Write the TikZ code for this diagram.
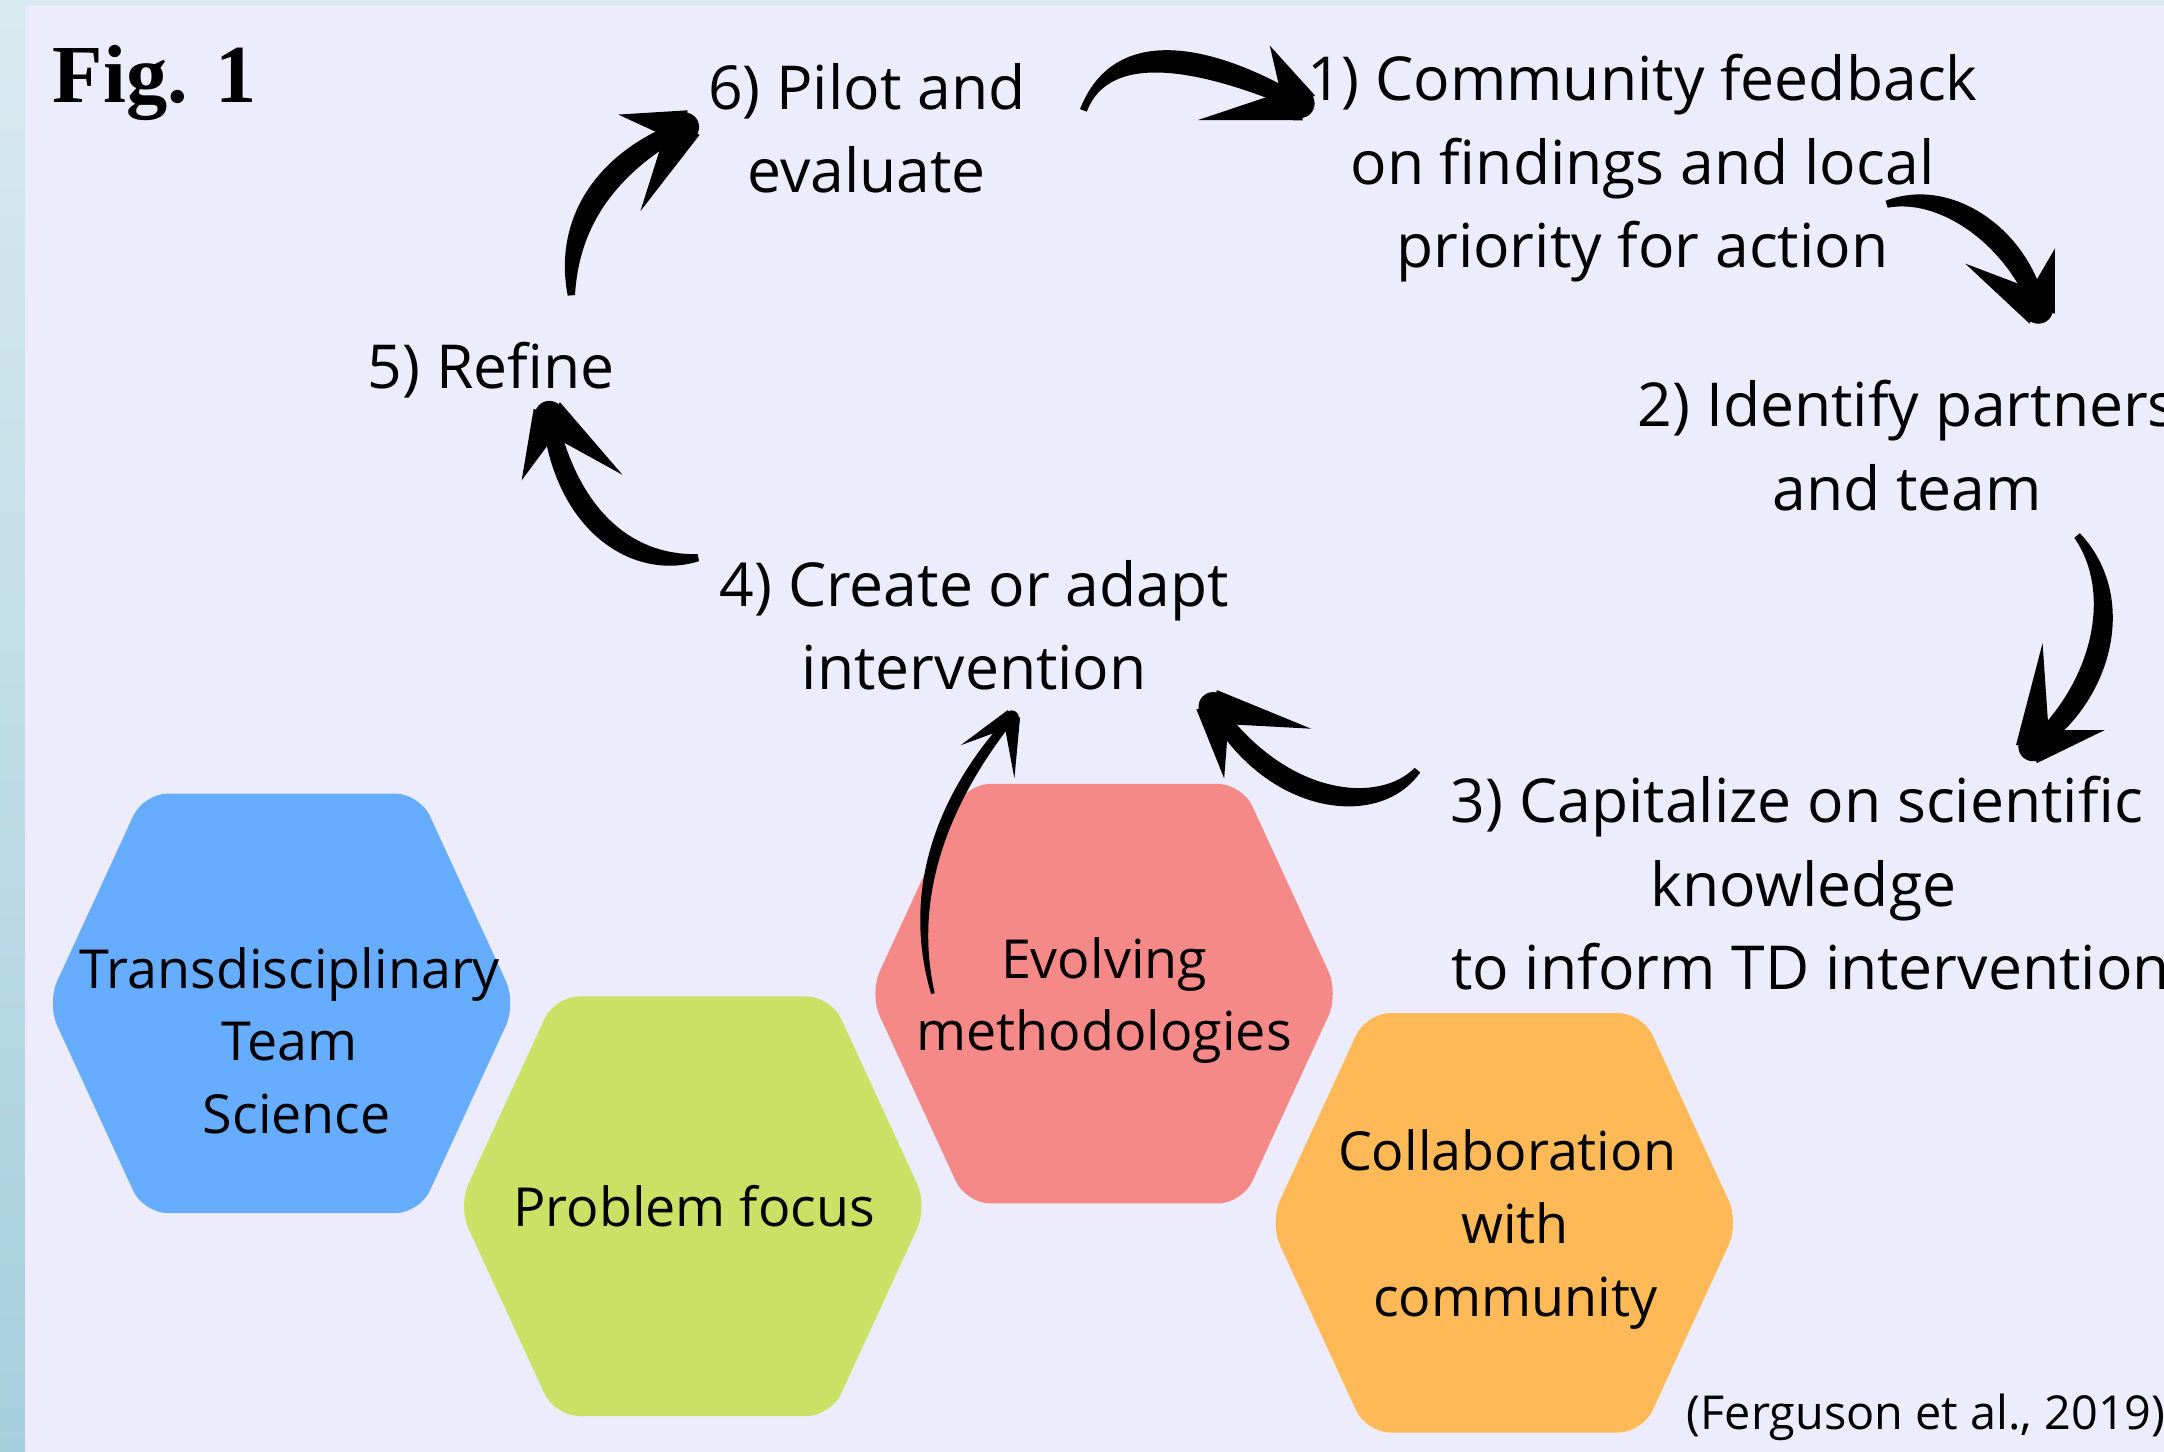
\documentclass[tikz,border=0pt]{standalone}
\usepackage{fontspec}
\setmainfont{Open Sans}
\newfontfamily\figfont{Liberation Serif}
\usetikzlibrary{calc}

\definecolor{bgfill}{RGB}{237,236,252}
\definecolor{stripTop}{RGB}{216,234,240}
\definecolor{stripBot}{RGB}{166,207,221}
\definecolor{hexblue}{RGB}{102,173,255}
\definecolor{hexgreen}{RGB}{201,225,100}
\definecolor{hexred}{RGB}{245,137,135}
\definecolor{hexorange}{RGB}{255,186,87}

\tikzset{
  steptext/.style={align=center, inner sep=0pt, font=\fontsize{25}{34.5}\selectfont},
  hextext/.style={align=center, inner sep=0pt, font=\fontsize{22.2}{30}\selectfont},
  hexa/.style={rounded corners=10pt}
}

\newcommand{\hexagon}[2]{%
  \fill[#2, hexa, shift={(#1)}] (-170,0) -- (-100,-152) -- (100,-152) -- (170,0) -- (100,152) -- (-100,152) -- cycle;}

% brush arrow: [scale]{tail}{c1}{c2}{tip}{barb}{barb}
\newcommand{\brush}[7][1]{%
  \coordinate (P0) at (#2); \coordinate (P1) at (#3);
  \coordinate (P2) at (#4); \coordinate (P3) at (#5);
  \fill ($(P0)!#1*1.5pt!90:(P1)$) .. controls ($(P1)!#1*6pt!90:(P2)$) and ($(P2)!#1*6pt!90:(P3)$) .. ($(P3)!#1*3pt!-90:(P2)$)
    -- ($(P3)!#1*3pt!90:(P2)$) .. controls ($(P2)!#1*6pt!-90:(P3)$) and ($(P1)!#1*6pt!-90:(P2)$) .. ($(P0)!#1*1.5pt!-90:(P1)$) -- cycle;
  \fill ($(#5)!#1*7pt!90:(#6)$) -- (#6) -- ($(#5)!#1*7pt!-90:(#6)$) -- cycle;
  \fill ($(#5)!#1*7pt!90:(#7)$) -- (#7) -- ($(#5)!#1*7pt!-90:(#7)$) -- cycle;
  \fill (#5) circle[radius=#1*6pt];}

\begin{document}
\begin{tikzpicture}[x=0.02cm, y=-0.02cm]
            \useasboundingbox (0,0) rectangle (1568,1052);
            \fill[bgfill] (0,0) rectangle (1568,1052);
            \shade[top color=stripTop, bottom color=stripBot] (0,0) rectangle (18,1052);
            \fill[stripTop] (18,0) rectangle (1568,4);

            \hexagon{204,727}{hexblue}
            \hexagon{502,874}{hexgreen}
            \hexagon{800,720}{hexred}
            \hexagon{1090,886}{hexorange}

            \node[hextext] (hexTD) at (210,754) {Transdisciplinary\\Team\\\hspace*{0.26em}Science};
            \node[hextext] (hexPF) at (503,874) {Problem focus};
            \node[hextext] (hexEM) at (800,725) {Evolving\\methodologies};
            \node[hextext] (hexCC) at (1092,891) {Collaboration\\\hspace*{0.3em}with\\\hspace*{0.3em}community};

            \node[anchor=west, inner sep=0pt, font=\figfont\bfseries\fontsize{34}{40}\selectfont] (fig) at (38,60) {Fig. 1};
            \node[steptext] (pilot) at (628,93) {6) Pilot and\\evaluate};
            \node[steptext] (comm) at (1190,122) {1) Community feedback\\on findings and local\\priority for action};
            \node[steptext] (partners) at (1382,323) {2) Identify partners\\and team};
            \node[steptext] (capital) at (1302,640) {3) Capitalize on scientific\\\hspace*{0.22em}knowledge\\\hspace*{0.45em}to inform TD intervention};
            \node[steptext] (create) at (706,453) {4) Create or adapt\\intervention};
            \node[steptext] (refine) at (356,268) {5) Refine};
            \node[anchor=west, inner sep=0pt, font=\fontsize{19.3}{23}\selectfont] (cite) at (1222,1027) {(Ferguson et al., 2019)};

            \coordinate (a1s) at (785,80);   \coordinate (a1e) at (942,75);
            \coordinate (a2s) at (1367,148); \coordinate (a2e) at (1477,224);
            \coordinate (a3s) at (1505,388); \coordinate (a3e) at (1473,541);
            \coordinate (a4s) at (1027,558); \coordinate (a4e) at (879,512);
            \coordinate (a5s) at (506,404);  \coordinate (a5e) at (398,301);
            \coordinate (a6s) at (414,214);  \coordinate (a6e) at (496,92);
            \coordinate (a7s) at (676,720);  \coordinate (a7e) at (733,520);

            \brush{a1s}{805,28}{871,39}{a1e}{920,33}{868,87}
            \brush{a2s}{1410,135}{1462,172}{a2e}{1424,191}{1489,180}
            \brush{a3s}{1540,430}{1525,500}{a3e}{1480,466}{1525,529}
            \brush{a4s}{1000,592}{925,585}{a4e}{887,564}{950,528}
            \brush{a5s}{465,412}{412,385}{a5e}{378,348}{451,344}
            \brush{a6s}{410,165}{435,120}{a6e}{448,83}{464,153}
            \brush[0.5]{a7s}{655,640}{690,570}{a7e}{696,540}{735,564}
        \end{tikzpicture}
\end{document}
